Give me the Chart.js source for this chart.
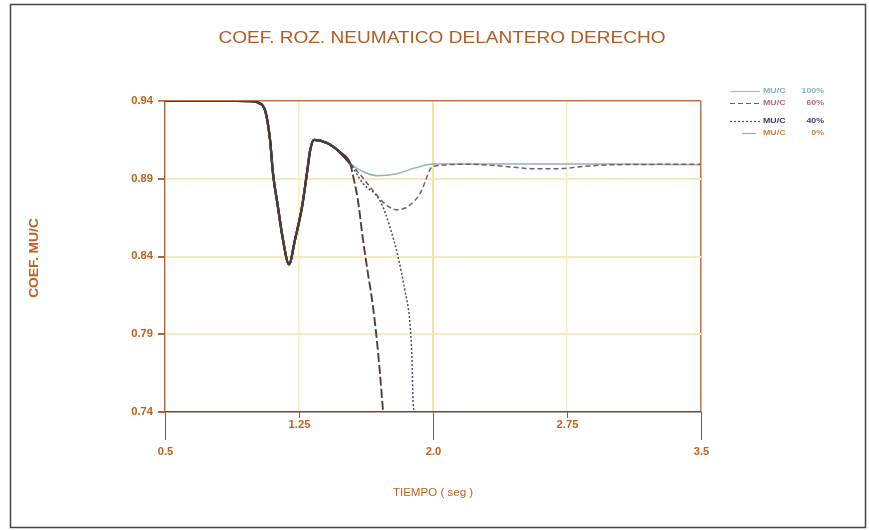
<!DOCTYPE html>
<html><head><meta charset="utf-8">
<script src="https://cdn.jsdelivr.net/npm/chart.js@4.4.1/dist/chart.umd.min.js"></script>
<style>html,body{margin:0;padding:0;background:#fff;}canvas{display:block;}</style>
</head><body>
<canvas id="c" width="869" height="530"></canvas>
<script>
const titleText = 'COEF. ROZ. NEUMATICO DELANTERO DERECHO';
const xTitle = 'TIEMPO ( seg )';
const yTitle = 'COEF. MU/C';
const seriesNames = ['MU/C', 'MU/C', 'MU/C', 'MU/C'];
const seriesPct = ['100%', '60%', '40%', '0%'];
const xTicks = [0.5, 1.25, 2.0, 2.75, 3.5];
const xTickLabels = ['0.5', '1.25', '2.0', '2.75', '3.5'];
const yTicks = [0.74, 0.79, 0.84, 0.89, 0.94];
const yTickLabels = ['0.74', '0.79', '0.84', '0.89', '0.94'];

// shared part of all four curves
const timeCommon = [0.5, 0.9, 1.0, 1.02, 1.06, 1.088, 1.104, 1.132, 1.16, 1.194, 1.228, 1.267, 1.295, 1.312, 1.334, 1.407, 1.48, 1.535];
const muCommon   = [0.94, 0.94, 0.9398, 0.939, 0.934, 0.915, 0.894, 0.872, 0.851, 0.835, 0.851, 0.872, 0.894, 0.908, 0.915, 0.913, 0.907, 0.900];

// branches after the shared part
const time100 = [1.62, 1.69, 1.79, 1.9, 2.0, 2.5, 3.0, 3.5];
const mu100   = [0.894, 0.892, 0.893, 0.897, 0.8995, 0.8995, 0.8995, 0.899];
const time60  = [1.59, 1.66, 1.73, 1.80, 1.87, 1.93, 2.0, 2.2, 2.4, 2.55, 2.7, 2.85, 3.0, 3.5];
const mu60    = [0.893, 0.883, 0.874, 0.870, 0.873, 0.881, 0.898, 0.8993, 0.898, 0.8965, 0.8965, 0.898, 0.899, 0.8993];
const time40  = [1.608, 1.703, 1.759, 1.804, 1.843, 1.871, 1.882, 1.888, 1.894];
const mu40    = [0.887, 0.876, 0.859, 0.840, 0.818, 0.797, 0.775, 0.748, 0.74];
const time0   = [1.56, 1.58, 1.608, 1.636, 1.659, 1.686, 1.703, 1.72];
const mu0     = [0.888, 0.876, 0.851, 0.829, 0.812, 0.786, 0.765, 0.741];

const lineColors = ['#8fb4bc', '#7a5a72', '#4a4a66', '#4e4038'];
const textColors = ['#8ab0b8', '#b06888', '#3a3a70', '#c08040'];
const dashes = [[], [5, 3], [2, 2], [9, 3]];
const commonColor = '#4a3e3a';
const orange = '#c0601c';
const FONT = '"Liberation Sans", Arial, sans-serif';

function pts(t, m) { return t.map((x, i) => ({x: x, y: m[i]})); }
const branches = [[time100, mu100], [time60, mu60], [time40, mu40], [time0, mu0]];
const splitT = timeCommon[timeCommon.length - 1];

const datasets = branches.map((b, i) => ({
  label: seriesNames[i] + ' ' + seriesPct[i],
  data: pts(timeCommon.concat(b[0]), muCommon.concat(b[1])),
  borderColor: lineColors[i],
  borderDash: dashes[i],
  borderWidth: 1.5,
  segment: {
    borderColor: ctx => ctx.p1.parsed.x <= splitT ? commonColor : lineColors[i],
    borderDash: ctx => ctx.p1.parsed.x <= splitT ? [] : dashes[i],
    borderWidth: ctx => ctx.p1.parsed.x <= splitT ? 2.2 : (i === 3 ? 1.9 : 1.5)
  },
  pointRadius: 0,
  fill: false,
  cubicInterpolationMode: 'monotone',
  order: 3 - i
}));

function wideText(c, txt, x, y, sx) {
  c.save(); c.translate(x, y); c.scale(sx, 1); c.fillText(txt, 0, 0); c.restore();
}

const deco = {
  id: 'deco',
  afterDraw(chart) {
    const c = chart.ctx;
    const xs = chart.scales.x, ys = chart.scales.y;
    c.save();
    // outer frame
    c.strokeStyle = '#444'; c.lineWidth = 1.5;
    c.strokeRect(10.5, 4.5, 855, 523);
    // title
    c.fillStyle = '#b05a24';
    c.font = '17px ' + FONT;
    c.textAlign = 'center'; c.textBaseline = 'middle';
    wideText(c, titleText, 442, 38, 1.12);
    // x title
    c.fillStyle = orange;
    c.font = '11px ' + FONT;
    wideText(c, xTitle, 433, 493, 1.05);
    // y title
    c.save();
    c.translate(35, 258); c.rotate(-Math.PI / 2);
    c.font = 'bold 12px ' + FONT;
    wideText(c, yTitle, 0, 0, 1.15);
    c.restore();
    // y labels
    c.font = 'bold 10px ' + FONT;
    c.textAlign = 'right';
    yTicks.forEach((v, i) => {
      c.fillStyle = orange;
      wideText(c, yTickLabels[i], 153, ys.getPixelForValue(v), 1.12);
    });
    // x ticks and staggered labels
    c.textAlign = 'center';
    const bottom = chart.chartArea.bottom;
    xTicks.forEach((v, i) => {
      const px = Math.round(xs.getPixelForValue(v)) + 0.5;
      const low = (i % 2 === 0);
      c.strokeStyle = '#7a5a48'; c.lineWidth = 1;
      c.beginPath(); c.moveTo(px, bottom); c.lineTo(px, bottom + (low ? 28 : 6)); c.stroke();
      c.fillStyle = orange;
      wideText(c, xTickLabels[i], px, bottom + (low ? 40 : 13), 1.12);
    });
    // legend
    const rowsY = [91, 103, 121, 133];
    c.font = 'bold 8px ' + FONT;
    rowsY.forEach((y, i) => {
      c.strokeStyle = i === 0 ? '#9cc4cc' : (i === 3 ? '#c8a070' : lineColors[i]);
      c.lineWidth = 1.2;
      c.setLineDash(i === 3 ? [] : dashes[i]);
      c.beginPath();
      if (i === 3) { c.moveTo(742, y + 0.5); c.lineTo(756, y + 0.5); }
      else { c.moveTo(730, y + 0.5); c.lineTo(760, y + 0.5); }
      c.stroke();
      c.setLineDash([]);
      c.fillStyle = textColors[i];
      c.textAlign = 'left';
      wideText(c, seriesNames[i], 763, y, 1.1);
      c.textAlign = 'right';
      wideText(c, seriesPct[i], 824, y, 1.1);
    });
    c.restore();
  }
};

new Chart(document.getElementById('c'), {
  type: 'line',
  data: { datasets: datasets },
  options: {
    responsive: false,
    animation: false,
    layout: { padding: { left: 165, top: 101, right: 168, bottom: 118 } },
    plugins: { legend: { display: false }, tooltip: { enabled: false }, title: { display: false } },
    scales: {
      x: {
        type: 'linear', min: 0.5, max: 3.5,
        afterBuildTicks: s => { s.ticks = xTicks.map(v => ({value: v})); },
        afterFit: s => { s.height = 0; },
        ticks: { display: false },
        grid: {
          drawTicks: false,
          color: ctx => {
            const v = ctx.tick ? ctx.tick.value : null;
            if (v === 3.5) return '#b07850';
            if (v === 0.5) return 'rgba(0,0,0,0)';
            return v === 2.0 ? '#f0e6a0' : '#f5efc4';
          },
          lineWidth: ctx => (ctx.tick && ctx.tick.value === 2.0) ? 2 : 1.5
        },
        border: { color: '#6a4a3a', width: 1.6 }
      },
      y: {
        type: 'linear', min: 0.74, max: 0.94,
        afterBuildTicks: s => { s.ticks = yTicks.map(v => ({value: v})); },
        afterFit: s => { s.width = 0; },
        ticks: { display: false },
        grid: {
          drawTicks: true, tickLength: 7, tickColor: '#a06a48',
          color: ctx => {
            const v = ctx.tick ? ctx.tick.value : null;
            if (v === 0.94) return '#b87448';
            if (v === 0.74) return 'rgba(0,0,0,0)';
            return '#f2eebc';
          },
          lineWidth: ctx => (ctx.tick && ctx.tick.value === 0.94) ? 1.6 : 2
        },
        border: { color: '#a8683c', width: 1.4 }
      }
    }
  },
  plugins: [deco]
});
</script>
</body></html>
